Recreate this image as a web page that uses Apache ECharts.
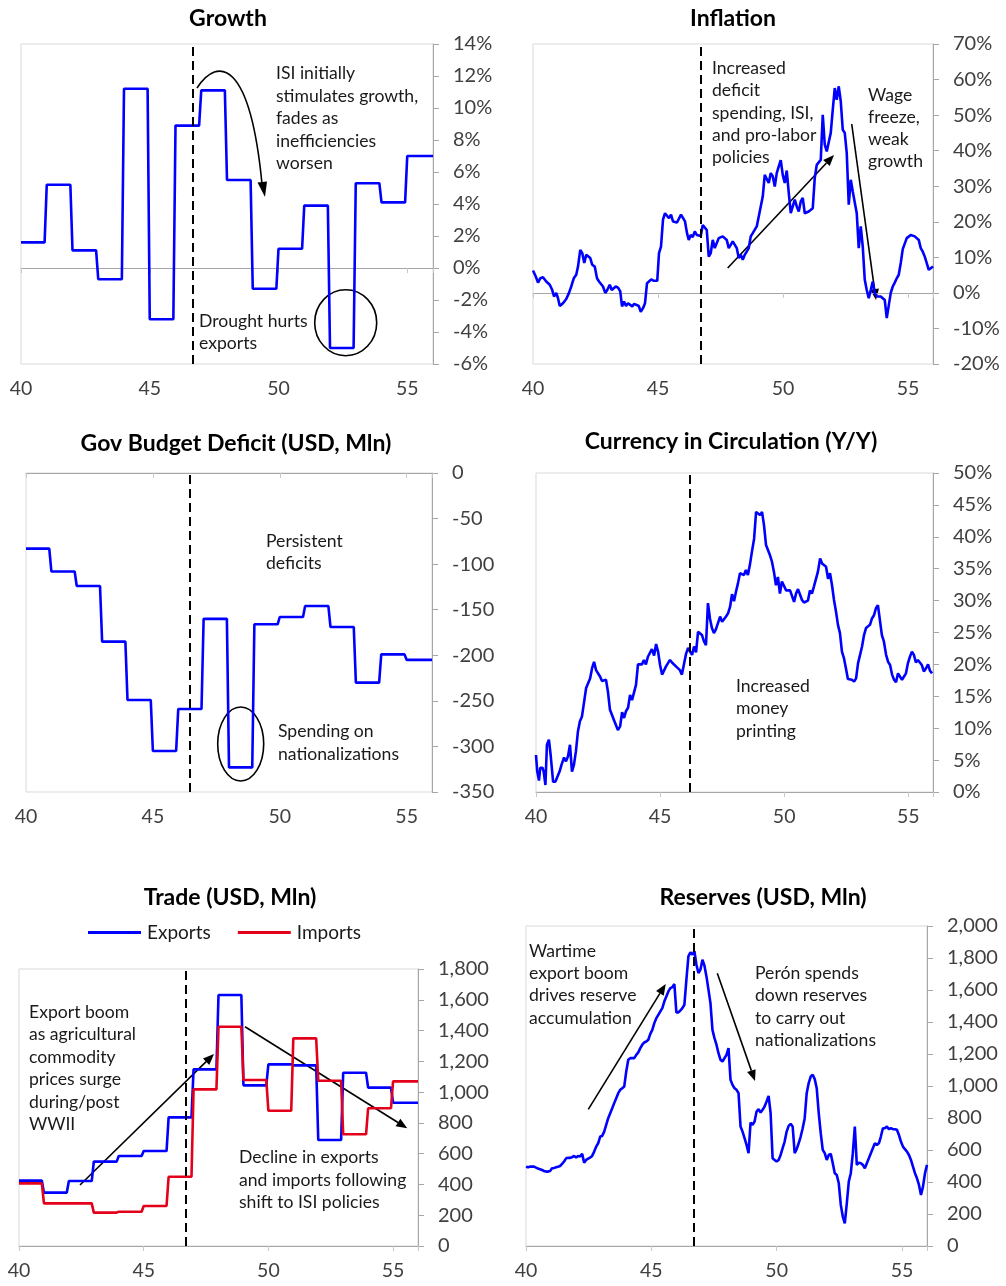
<!DOCTYPE html>
<html>
<head>
<meta charset="utf-8">
<script src="https://cdn.jsdelivr.net/npm/echarts@6/dist/echarts.min.js"></script>
<style>
  html, body { margin: 0; padding: 0; background: #ffffff; }
  #chart { width: 1006px; height: 1286px; }
</style>
</head>
<body>
<div id="chart"></div>
<script>
// ---- Argentina 1940–1956: macro dashboard ----

// Annual series (value holds for the whole year)
const annualYears = [40, 41, 42, 43, 44, 45, 46, 47, 48, 49, 50, 51, 52, 53, 54, 55];
const growthPct   = [1.6, 5.2, 1.1, -0.7, 11.2, -3.2, 8.9, 11.1, 5.5, -1.3, 1.2, 3.9, -5.0, 5.3, 4.1, 7.0];
const deficitUsd  = [-83, -108, -124, -185, -249, -305, -259, -160, -323, -166, -158, -146, -169, -230, -199, -205];
const exportsUsd  = [425, 347, 422, 548, 585, 617, 836, 1148, 1631, 1044, 1180, 1174, 689, 1126, 1029, 931];
const importsUsd  = [407, 277, 277, 217, 223, 260, 450, 1018, 1425, 1079, 879, 1349, 1074, 726, 895, 1070];

// Monthly-ish series: [year, value]
const inflationPct = [
  [40.00,6.3],[40.11,4.6],[40.20,2.9],[40.29,4.1],[40.40,4.4],[40.53,3.2],[40.67,2.3],[40.77,0.8],[40.84,-1.0],[40.93,0.0],
  [41.00,-1.5],[41.07,-3.7],[41.20,-2.9],[41.33,-1.7],[41.44,0.0],[41.53,1.8],[41.63,4.1],[41.73,5.1],[41.80,7.4],[41.89,12.1],
  [41.97,11.2],[42.05,8.4],[42.13,10.7],[42.21,11.0],[42.29,9.8],[42.37,7.9],[42.47,7.4],[42.56,4.1],[42.64,3.2],[42.72,3.7],
  [42.80,1.8],[42.89,0.0],[42.97,0.8],[43.07,2.3],[43.15,0.8],[43.23,1.0],[43.31,1.8],[43.40,1.5],[43.49,0.4],[43.56,-3.8],
  [43.64,-2.4],[43.72,-3.7],[43.80,-2.9],[43.88,-2.4],[43.97,-3.8],[44.05,-3.1],[44.13,-2.7],[44.23,-3.7],[44.31,-5.3],[44.40,-4.3],
  [44.48,-2.9],[44.56,2.7],[44.64,3.2],[44.73,3.8],[44.83,3.4],[44.91,3.4],[44.97,3.4],[45.04,11.2],[45.12,13.0],[45.20,20.6],
  [45.28,22.4],[45.36,22.9],[45.44,21.0],[45.52,22.0],[45.60,20.1],[45.68,20.1],[45.76,19.8],[45.84,20.1],[45.92,22.0],[46.00,21.5],
  [46.08,20.1],[46.16,16.8],[46.23,14.9],[46.31,16.3],[46.39,15.7],[46.47,17.3],[46.55,16.3],[46.63,16.8],[46.71,16.0],[46.79,19.1],
  [46.87,18.7],[46.95,17.7],[47.03,10.2],[47.11,11.2],[47.19,14.9],[47.27,12.6],[47.35,13.0],[47.43,15.4],[47.51,14.9],[47.59,15.9],
  [47.67,15.4],[47.75,14.9],[47.83,12.6],[47.91,13.5],[47.99,14.5],[48.07,14.0],[48.15,12.6],[48.23,9.8],[48.31,10.7],[48.39,9.3],
  [48.47,10.7],[48.55,10.2],[48.63,12.6],[48.71,15.9],[48.79,16.8],[48.87,16.3],[48.95,18.7],[49.03,21.5],[49.11,22.0],[49.19,27.1],
  [49.27,33.2],[49.35,32.8],[49.43,30.9],[49.51,33.7],[49.59,32.8],[49.67,29.9],[49.75,33.7],[49.83,35.6],[49.91,37.3],[49.99,33.2],
  [50.07,30.9],[50.15,34.4],[50.23,28.1],[50.31,22.4],[50.39,24.3],[50.47,26.2],[50.55,24.3],[50.63,22.9],[50.71,25.7],[50.79,26.7],
  [50.87,22.4],[50.95,22.4],[51.03,22.9],[51.11,23.4],[51.19,23.8],[51.27,32.3],[51.35,36.0],[51.43,36.5],[51.51,37.4],[51.59,50.1],
  [51.67,41.7],[51.75,39.8],[51.83,39.8],[51.91,45.0],[51.99,51.5],[52.07,57.6],[52.15,54.3],[52.23,58.1],[52.31,53.9],[52.39,45.9],
  [52.47,45.0],[52.55,39.3],[52.63,24.8],[52.71,31.8],[52.79,28.5],[52.87,28.5],[52.95,22.4],[53.03,12.6],[53.11,18.7],[53.19,13.0],
  [53.27,3.7],[53.35,0.8],[53.43,-1.5],[53.51,0.8],[53.59,3.2],[53.67,0.0],[53.75,-1.0],[53.83,-1.5],[53.91,-1.0],[53.99,-1.3],
  [54.07,-2.0],[54.15,-7.1],[54.23,-6.7],[54.31,0.0],[54.39,1.8],[54.47,2.9],[54.55,4.1],[54.63,5.1],[54.71,8.4],[54.79,12.3],
  [54.87,12.6],[54.95,15.4],[55.03,15.9],[55.11,16.3],[55.19,15.9],[55.27,15.9],[55.35,16.0],[55.43,14.9],[55.51,12.6],[55.59,11.6],
  [55.67,10.2],[55.75,8.4],[55.83,6.5],[55.91,6.9],[56.00,7.4]
];

const currencyYoY = [
  [40.00,5.8],[40.05,3.2],[40.12,1.8],[40.17,3.8],[40.26,3.8],[40.31,3.2],[40.38,1.1],[40.44,7.4],[40.52,8.2],[40.59,5.8],
  [40.69,1.6],[40.78,1.6],[40.86,1.9],[40.95,3.2],[41.03,4.3],[41.13,5.4],[41.21,4.8],[41.29,5.6],[41.37,7.4],[41.45,3.2],
  [41.53,4.3],[41.61,6.4],[41.69,9.5],[41.77,11.1],[41.85,11.8],[41.93,13.9],[42.02,16.3],[42.10,16.3],[42.18,17.8],[42.26,19.4],
  [42.34,20.4],[42.42,19.1],[42.50,18.9],[42.58,18.1],[42.66,17.4],[42.74,17.4],[42.82,17.6],[42.90,15.7],[42.98,12.9],[43.06,12.1],
  [43.14,11.3],[43.22,10.5],[43.30,9.7],[43.39,10.3],[43.47,12.5],[43.55,11.6],[43.63,12.7],[43.71,13.2],[43.79,15.2],[43.87,14.4],
  [43.95,14.6],[44.03,16.8],[44.11,20.0],[44.19,19.9],[44.27,20.0],[44.35,20.7],[44.43,20.0],[44.51,21.2],[44.59,21.2],[44.67,22.4],
  [44.76,21.4],[44.84,23.2],[44.92,22.0],[45.00,19.9],[45.08,18.4],[45.16,18.6],[45.24,19.7],[45.32,20.2],[45.40,20.7],[45.48,20.3],
  [45.56,20.2],[45.64,19.7],[45.72,19.7],[45.80,19.1],[45.88,18.4],[45.96,18.4],[46.05,21.7],[46.13,22.6],[46.21,22.0],[46.29,21.5],
  [46.37,22.8],[46.45,21.9],[46.53,25.1],[46.61,25.1],[46.69,24.6],[46.77,23.6],[46.85,23.0],[46.93,29.6],[47.01,27.2],[47.09,25.7],
  [47.17,24.9],[47.25,25.5],[47.33,25.8],[47.42,27.5],[47.50,26.7],[47.58,27.0],[47.66,27.5],[47.74,28.0],[47.82,29.0],[47.90,31.0],
  [47.98,29.9],[48.06,31.4],[48.14,32.7],[48.22,34.3],[48.30,34.5],[48.38,34.0],[48.46,34.8],[48.54,34.0],[48.62,35.6],[48.70,37.6],
  [48.79,39.7],[48.87,43.9],[48.95,43.6],[49.03,43.4],[49.11,43.9],[49.19,41.8],[49.27,38.7],[49.35,38.4],[49.43,37.1],[49.51,36.1],
  [49.59,34.5],[49.67,32.4],[49.75,33.7],[49.83,31.1],[49.91,33.0],[49.99,33.2],[50.08,31.6],[50.16,31.4],[50.24,31.6],[50.32,31.4],
  [50.40,29.8],[50.48,31.1],[50.56,31.8],[50.64,32.0],[50.72,30.1],[50.80,29.7],[50.88,29.7],[50.96,30.0],[51.04,31.6],[51.12,31.1],
  [51.20,32.2],[51.28,32.3],[51.36,34.5],[51.45,36.6],[51.53,35.8],[51.61,36.0],[51.69,35.3],[51.77,33.4],[51.85,34.3],[51.93,32.4],
  [52.01,30.1],[52.09,28.3],[52.17,26.2],[52.25,24.9],[52.33,22.0],[52.41,21.0],[52.49,19.4],[52.57,17.7],[52.65,17.6],[52.73,17.6],
  [52.82,17.3],[52.90,17.8],[52.98,20.2],[53.06,21.5],[53.14,22.8],[53.22,24.6],[53.30,25.7],[53.38,25.8],[53.46,26.2],[53.54,27.2],
  [53.62,27.7],[53.70,28.8],[53.78,29.3],[53.86,29.6],[53.94,24.6],[54.02,23.6],[54.11,21.5],[54.19,20.4],[54.27,19.9],[54.35,18.4],
  [54.43,17.6],[54.51,17.2],[54.59,18.6],[54.67,18.4],[54.75,17.6],[54.83,17.6],[54.91,18.6],[54.99,20.2],[55.07,21.2],[55.15,22.0],
  [55.23,21.5],[55.31,20.3],[55.39,20.7],[55.47,20.4],[55.55,19.9],[55.63,18.9],[55.72,19.4],[55.80,20.0],[55.88,19.0],[55.96,18.6]
];

const reservesUsd = [
  [40.00,496],[40.08,492],[40.16,496],[40.24,496],[40.32,496],[40.40,490],[40.48,484],[40.56,480],[40.64,475],[40.72,469],
  [40.80,465],[40.88,465],[40.96,469],[41.04,486],[41.12,488],[41.20,492],[41.28,496],[41.36,500],[41.44,513],[41.52,528],
  [41.60,548],[41.68,551],[41.76,551],[41.84,555],[41.92,563],[42.00,553],[42.08,563],[42.16,559],[42.24,576],[42.32,521],
  [42.40,538],[42.48,546],[42.56,553],[42.64,563],[42.72,590],[42.80,621],[42.88,642],[42.96,684],[43.04,688],[43.12,715],
  [43.20,757],[43.28,799],[43.36,830],[43.44,861],[43.52,893],[43.60,924],[43.68,955],[43.76,976],[43.84,986],[43.92,997],
  [44.00,1091],[44.08,1164],[44.16,1174],[44.24,1174],[44.32,1174],[44.40,1195],[44.48,1210],[44.56,1237],[44.64,1258],[44.72,1272],
  [44.80,1278],[44.88,1289],[44.96,1326],[45.04,1351],[45.12,1393],[45.20,1424],[45.28,1445],[45.36,1466],[45.44,1487],[45.52,1529],
  [45.60,1560],[45.68,1591],[45.76,1612],[45.84,1618],[45.92,1637],[46.00,1460],[46.08,1460],[46.16,1472],[46.24,1487],[46.32,1508],
  [46.40,1664],[46.48,1810],[46.56,1835],[46.64,1821],[46.72,1842],[46.80,1758],[46.88,1706],[46.96,1727],[47.04,1789],[47.12,1752],
  [47.20,1685],[47.28,1602],[47.36,1518],[47.44,1351],[47.52,1299],[47.60,1258],[47.68,1205],[47.76,1164],[47.84,1153],[47.92,1174],
  [48.00,1195],[48.08,1237],[48.16,1039],[48.24,1007],[48.32,986],[48.40,976],[48.48,955],[48.56,747],[48.64,715],[48.72,674],
  [48.80,632],[48.88,580],[48.96,772],[49.04,757],[49.12,778],[49.20,840],[49.28,855],[49.36,834],[49.44,851],[49.52,872],
  [49.60,903],[49.68,938],[49.76,830],[49.84,548],[49.92,538],[50.00,528],[50.08,538],[50.16,569],[50.24,611],[50.32,653],
  [50.40,715],[50.48,751],[50.56,763],[50.64,747],[50.72,580],[50.80,605],[50.88,642],[50.96,684],[51.04,736],[51.12,799],
  [51.20,955],[51.28,1018],[51.36,1059],[51.44,1070],[51.52,1043],[51.60,986],[51.68,830],[51.76,705],[51.84,601],[51.92,580],
  [52.00,538],[52.08,569],[52.16,576],[52.24,517],[52.32,455],[52.40,444],[52.48,392],[52.56,257],[52.64,184],[52.72,142],
  [52.80,267],[52.88,403],[52.96,455],[53.04,580],[53.12,747],[53.20,507],[53.28,521],[53.36,517],[53.44,507],[53.52,486],
  [53.60,517],[53.68,548],[53.76,580],[53.84,611],[53.92,642],[54.00,632],[54.08,642],[54.16,684],[54.24,736],[54.32,736],
  [54.40,747],[54.48,730],[54.56,736],[54.64,730],[54.72,730],[54.80,726],[54.88,694],[54.96,653],[55.04,621],[55.12,605],
  [55.20,590],[55.28,569],[55.36,538],[55.44,496],[55.52,455],[55.60,423],[55.68,382],[55.76,319],[55.84,371],[55.92,455],
  [56.00,507]
];

// Perón takes office – dashed marker per panel
const peronMarker = [46.67, 46.72, 46.44, 46.19, 46.67, 46.70];

// ---- styling ----
const FONT = 'Lato, "Noto Sans", sans-serif';
const BLUE = '#0000ff';
const RED = '#e3001b';
const AXIS_GREY = '#a6a6a6';
const LABEL_GREY = '#404040';
const TEXT = '#1a1a1a';

function stepLine(vals) {
  const pts = [];
  vals.forEach((v, i) => {
    const yr = annualYears[i];
    pts.push([yr, v]);
    pts.push([yr + 11 / 12, v]);
  });
  pts.push([annualYears[annualYears.length - 1] + 1, vals[vals.length - 1]]);
  return pts;
}
const pct = v => v + '%';
const thousands = v => v.toLocaleString('en-US');

const panels = [
  { grid: { left: 21,  top: 44,  width: 412, height: 320 }, y: { min: -6,   max: 14,   interval: 2,   fmt: pct } },
  { grid: { left: 533, top: 44,  width: 400, height: 320 }, y: { min: -20,  max: 70,   interval: 10,  fmt: pct } },
  { grid: { left: 26,  top: 473, width: 406, height: 319 }, y: { min: -350, max: 0,    interval: 50,  fmt: v => String(v) } },
  { grid: { left: 536, top: 473, width: 397, height: 319 }, y: { min: 0,    max: 50,   interval: 5,   fmt: pct } },
  { grid: { left: 19,  top: 969, width: 399, height: 277 }, y: { min: 0,    max: 1800, interval: 200, fmt: thousands } },
  { grid: { left: 526, top: 926, width: 401, height: 320 }, y: { min: 0,    max: 2000, interval: 200, fmt: thousands } }
];

const grid = [], xAxis = [], yAxis = [];
panels.forEach((p, i) => {
  grid.push(Object.assign({ show: true, borderColor: '#d9d9d9', borderWidth: 1, containLabel: false }, p.grid));
  // labelled axis along the bottom edge
  xAxis.push({
    type: 'value', gridIndex: i, min: 40, max: 56, interval: 5, position: 'bottom',
    axisLine: { show: false, onZero: false }, axisTick: { show: false }, splitLine: { show: false },
    axisLabel: {
      fontSize: 19.5, color: LABEL_GREY, fontFamily: FONT, margin: 15, showMaxLabel: false,
      formatter: v => (v % 5 === 0 && v < 56) ? String(v) : ''
    }
  });
  // axis line sitting on the zero value
  xAxis.push({
    type: 'value', gridIndex: i, min: 40, max: 56, interval: 5, position: 'bottom',
    axisLine: { show: true, onZero: true, lineStyle: { color: AXIS_GREY, width: 1 } },
    axisTick: { show: true, length: 5, lineStyle: { color: '#c8c8c8' } },
    axisLabel: { show: false }, splitLine: { show: false }
  });
  yAxis.push({
    type: 'value', gridIndex: i, position: 'right', min: p.y.min, max: p.y.max, interval: p.y.interval,
    axisLine: { show: true, onZero: false, lineStyle: { color: AXIS_GREY, width: 1 } },
    axisTick: { show: true, length: 6, lineStyle: { color: AXIS_GREY } },
    splitLine: { show: false },
    axisLabel: { fontSize: 20, color: LABEL_GREY, fontFamily: FONT, margin: 20, formatter: p.y.fmt }
  });
});

function marker(i) {
  return {
    silent: true, symbol: ['none', 'none'], label: { show: false },
    lineStyle: { color: '#000', width: 2, type: [9, 5] },
    emphasis: { disabled: true },
    data: [{ xAxis: peronMarker[i] }]
  };
}
function lineSeries(name, i, data, color, withMarker) {
  const s = {
    name, type: 'line', xAxisIndex: 2 * i, yAxisIndex: i, data,
    showSymbol: false, symbol: 'none', smooth: false,
    lineStyle: { color, width: 2.6 }, itemStyle: { color },
    emphasis: { disabled: true }, z: 3
  };
  if (withMarker) s.markLine = marker(i);
  return s;
}

const series = [
  lineSeries('Growth', 0, stepLine(growthPct), BLUE, true),
  lineSeries('Inflation', 1, inflationPct, BLUE, true),
  lineSeries('Deficit', 2, stepLine(deficitUsd), BLUE, true),
  lineSeries('Currency', 3, currencyYoY, BLUE, true),
  lineSeries('Exports', 4, stepLine(exportsUsd), BLUE, true),
  lineSeries('Imports', 4, stepLine(importsUsd), RED, false),
  lineSeries('Reserves', 5, reservesUsd, BLUE, true)
];

// ---- titles and annotations ----
function title(text, x, y) {
  return { type: 'text', x, y, silent: true,
    style: { text, font: 'bold 23px ' + FONT, fill: '#000', align: 'center', verticalAlign: 'middle', textAlign: 'center', textVerticalAlign: 'middle' } };
}
function note(lines, x, top, lh) {
  return { type: 'text', x, y: top, silent: true,
    style: { text: lines.join('\n'), font: '17.6px ' + FONT, fill: TEXT, lineHeight: lh, align: 'left', verticalAlign: 'top', textAlign: 'left', textVerticalAlign: 'top' } };
}
function arrow(x1, y1, x2, y2) {
  const L = 11, W = 4.5;
  const dx = x2 - x1, dy = y2 - y1, d = Math.hypot(dx, dy);
  const ux = dx / d, uy = dy / d;
  const bx = x2 - ux * L, by = y2 - uy * L;
  return [
    { type: 'line', silent: true, shape: { x1, y1, x2: bx, y2: by }, style: { stroke: '#000', lineWidth: 1.6 } },
    { type: 'polygon', silent: true, shape: { points: [[x2, y2], [bx - uy * W, by + ux * W], [bx + uy * W, by - ux * W]] }, style: { fill: '#000' } }
  ];
}
function ring(cx, cy, rx, ry) {
  return { type: 'ellipse', silent: true, shape: { cx, cy, rx, ry }, style: { stroke: '#000', lineWidth: 1.6, fill: null } };
}

const graphic = [
  title('Growth', 228, 19),
  title('Inflation', 733, 19),
  title('Gov Budget Deficit (USD, Mln)', 236, 444),
  title('Currency in Circulation (Y/Y)', 731, 442),
  title('Trade (USD, Mln)', 230, 898),
  title('Reserves (USD, Mln)', 763, 898),

  note(['ISI initially', 'stimulates growth,', 'fades as', 'inefficiencies', 'worsen'], 276, 62.5, 22.5),
  { type: 'bezierCurve', silent: true,
    shape: { x1: 197, y1: 88, cpx1: 218, cpy1: 56, cpx2: 250, cpy2: 60, x2: 262, y2: 184 },
    style: { stroke: '#000', lineWidth: 1.6, fill: null } },
  { type: 'polygon', silent: true, shape: { points: [[265, 197], [257.5, 182.5], [267, 181.5]] }, style: { fill: '#000' } },
  note(['Drought hurts', 'exports'], 199, 310, 22),
  ring(345.7, 322.7, 31, 33),

  note(['Increased', 'deficit', 'spending, ISI,', 'and pro-labor', 'policies'], 712, 57, 22.4),
  ...arrow(727.7, 268, 834, 155),
  note(['Wage', 'freeze,', 'weak', 'growth'], 868, 84.5, 22),
  ...arrow(851.7, 124, 876, 300),

  note(['Persistent', 'deficits'], 266, 530.5, 21.7),
  note(['Spending on', 'nationalizations'], 278, 719.5, 23),
  ring(240.7, 744, 23, 37),

  note(['Increased', 'money', 'printing'], 736, 675, 22.5),

  note(['Export boom', 'as agricultural', 'commodity', 'prices surge', 'during/post', 'WWII'], 29, 1001, 22.45),
  ...arrow(80, 1185, 214, 1054),
  ...arrow(245, 1026.7, 407.3, 1128.3),
  note(['Decline in exports', 'and imports following', 'shift to ISI policies'], 239, 1146.5, 22.5),

  note(['Wartime', 'export boom', 'drives reserve', 'accumulation'], 529, 940, 22.3),
  ...arrow(588.3, 1109.3, 665.7, 984),
  note(['Perón spends', 'down reserves', 'to carry out', 'nationalizations'], 755, 962, 22.5),
  ...arrow(717.3, 973.3, 755, 1081)
];

const chart = echarts.init(document.getElementById('chart'), null, { renderer: 'canvas' });
chart.setOption({
  backgroundColor: '#ffffff',
  animation: false,
  textStyle: { fontFamily: FONT },
  legend: {
    data: ['Exports', 'Imports'], left: 88, top: 923, padding: 0,
    icon: 'rect', itemWidth: 53, itemHeight: 3, itemGap: 27,
    textStyle: { fontSize: 19, color: TEXT, fontFamily: FONT, padding: [0, 0, 0, 1] },
    selectedMode: false
  },
  grid, xAxis, yAxis, series, graphic
});
</script>
</body>
</html>
